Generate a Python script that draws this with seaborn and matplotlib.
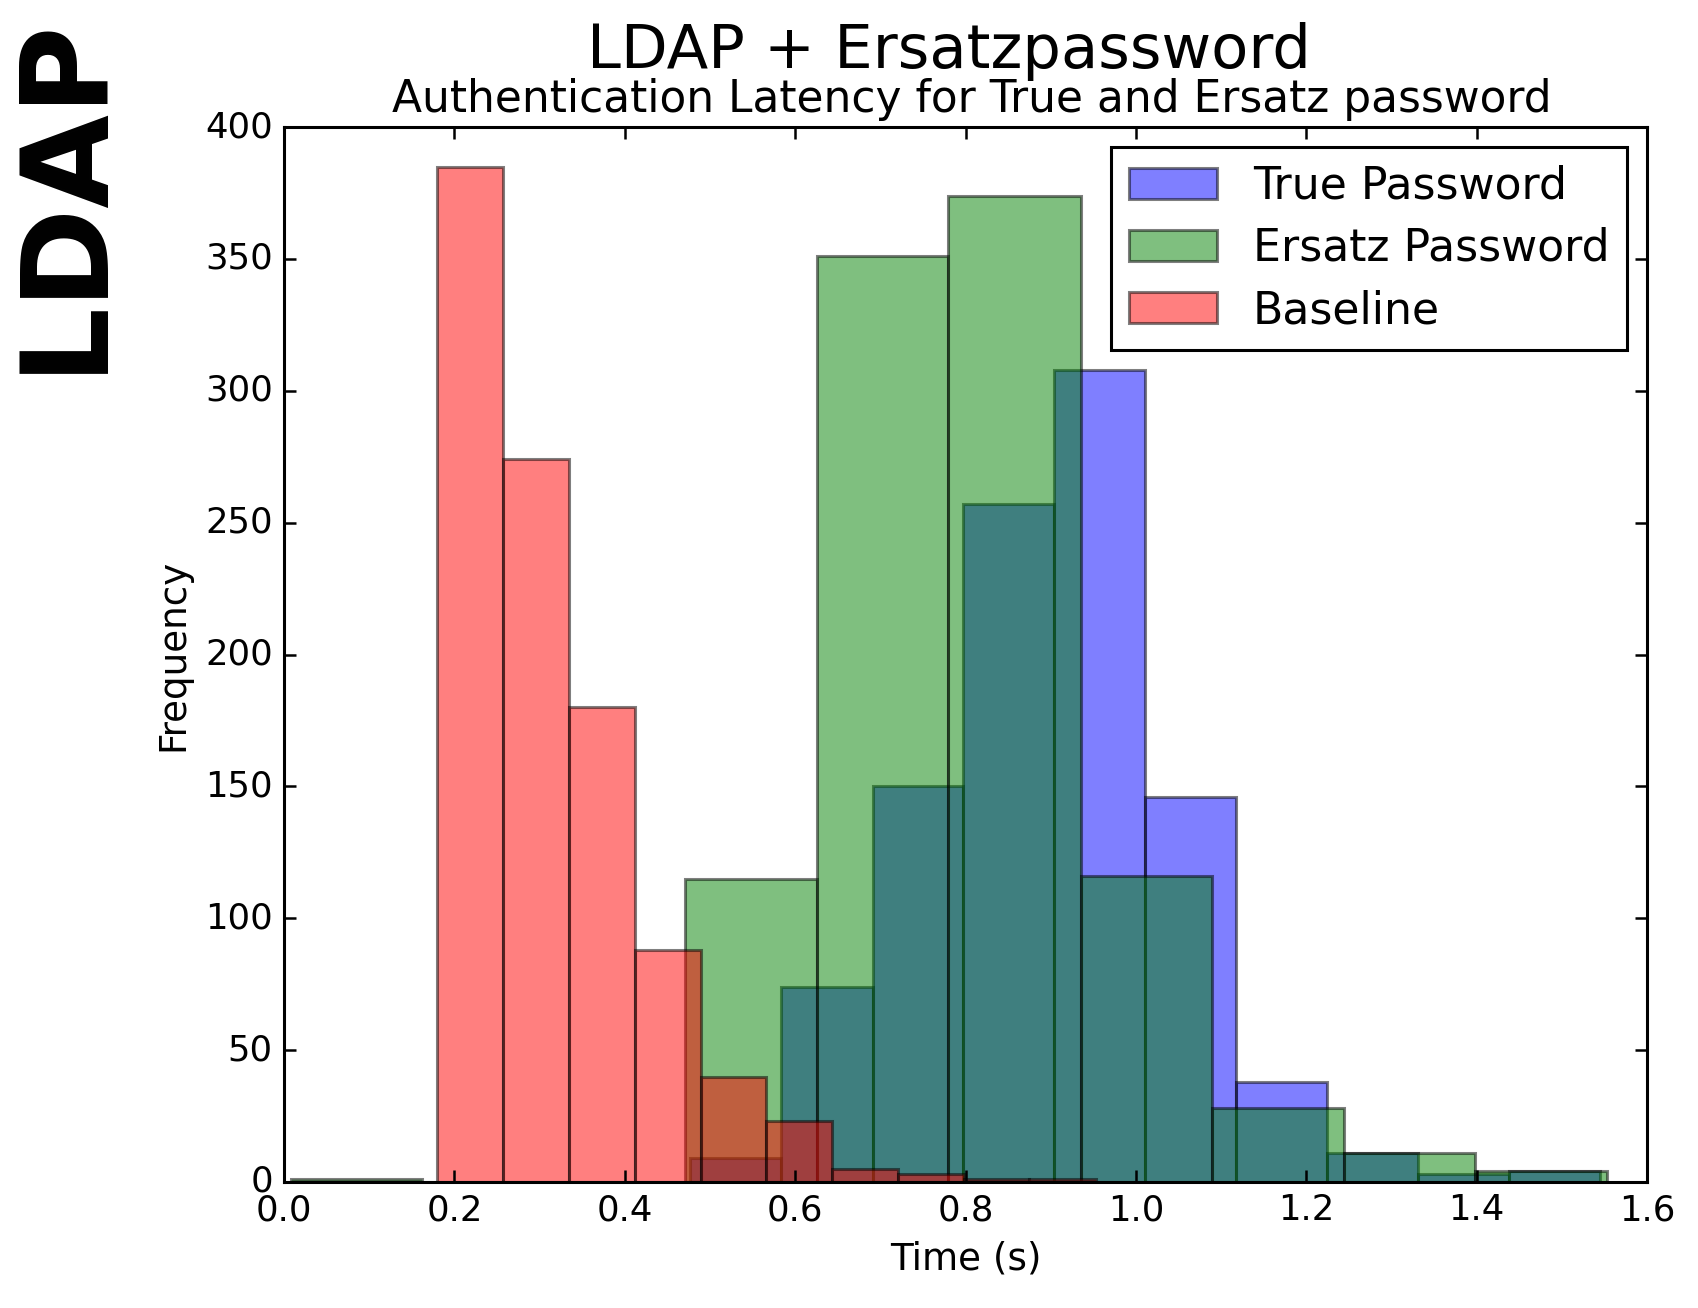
import numpy as np
import pandas as pd
import matplotlib
matplotlib.use("Agg")
import matplotlib.pyplot as plt
import seaborn as sns

# --- data (bin edges in s, counts per bin) ---
true_edges = [0.477, 0.584, 0.691, 0.797, 0.904, 1.011, 1.118, 1.224, 1.331, 1.438, 1.545]
true_counts = [9, 74, 150, 257, 308, 146, 38, 11, 3, 4]

ersatz_edges = [0.008, 0.162, 0.317, 0.471, 0.626, 0.780, 0.935, 1.089, 1.244, 1.398, 1.553]
ersatz_counts = [1, 0, 0, 115, 351, 374, 116, 28, 11, 4]

baseline_edges = [0.180, 0.257, 0.334, 0.412, 0.489, 0.566, 0.643, 0.721, 0.798, 0.875, 0.953]
baseline_counts = [385, 274, 180, 88, 40, 23, 5, 3, 1, 1]

series = [
    ("True Password", true_edges, true_counts, "b"),
    ("Ersatz Password", ersatz_edges, ersatz_counts, "g"),
    ("Baseline", baseline_edges, baseline_counts, "r"),
]

x_ticks = [0.0, 0.2, 0.4, 0.6, 0.8, 1.0, 1.2, 1.4, 1.6]
y_ticks = [0, 50, 100, 150, 200, 250, 300, 350, 400]

# --- style: old matplotlib look ---
plt.style.use("classic")
plt.rcParams["font.family"] = ["DejaVu Sans"]
plt.rcParams["xtick.labelsize"] = 12.8
plt.rcParams["ytick.labelsize"] = 12.8
plt.rcParams["axes.labelsize"] = 13.4
plt.rcParams["axes.linewidth"] = 1.1
plt.rcParams["xtick.major.size"] = 4.3
plt.rcParams["ytick.major.size"] = 4.3
plt.rcParams["xtick.major.width"] = 0.9
plt.rcParams["ytick.major.width"] = 0.9

fig = plt.figure(figsize=(1699 / 200, 1308 / 200), dpi=200, facecolor="white")
ax = fig.add_axes([284 / 1699, 1 - 1182 / 1308, (1647 - 284) / 1699, (1182 - 127) / 1308])

for label, edges, counts, color in series:
    e = np.array(edges)
    df = pd.DataFrame({"time": (e[:-1] + e[1:]) / 2, "count": counts})
    sns.histplot(data=df, x="time", weights="count", bins=list(edges), color=color,
                 alpha=0.5, edgecolor=(0, 0, 0, 0.5), linewidth=1.1, label=label, ax=ax)

ax.set_xlim(0, 1.6)
ax.set_ylim(0, 400)
ax.set_xticks(x_ticks)
ax.set_yticks(y_ticks)
ax.set_xticklabels([f"{t:.1f}" for t in x_ticks])
ax.set_xlabel("Time (s)")
ax.set_ylabel("Frequency")

leg = ax.legend(loc="upper right", fontsize=15.9, labelspacing=0.44, borderaxespad=0.45)
leg.get_frame().set_linewidth(1.1)

fig.text(949 / 1699, 1 - 68 / 1308, "LDAP + Ersatzpassword", ha="center", va="baseline", fontsize=21.9)
fig.text(972 / 1699, 1 - 112 / 1308, "Authentication Latency for True and Ersatz password",
         ha="center", va="baseline", fontsize=15.8)
fig.text(64 / 1699, 1 - 193 / 1308, "LDAP", rotation=90, ha="center", va="center",
         fontsize=43.5, fontweight="bold")

fig.savefig("out.png", dpi=200, facecolor="white")
